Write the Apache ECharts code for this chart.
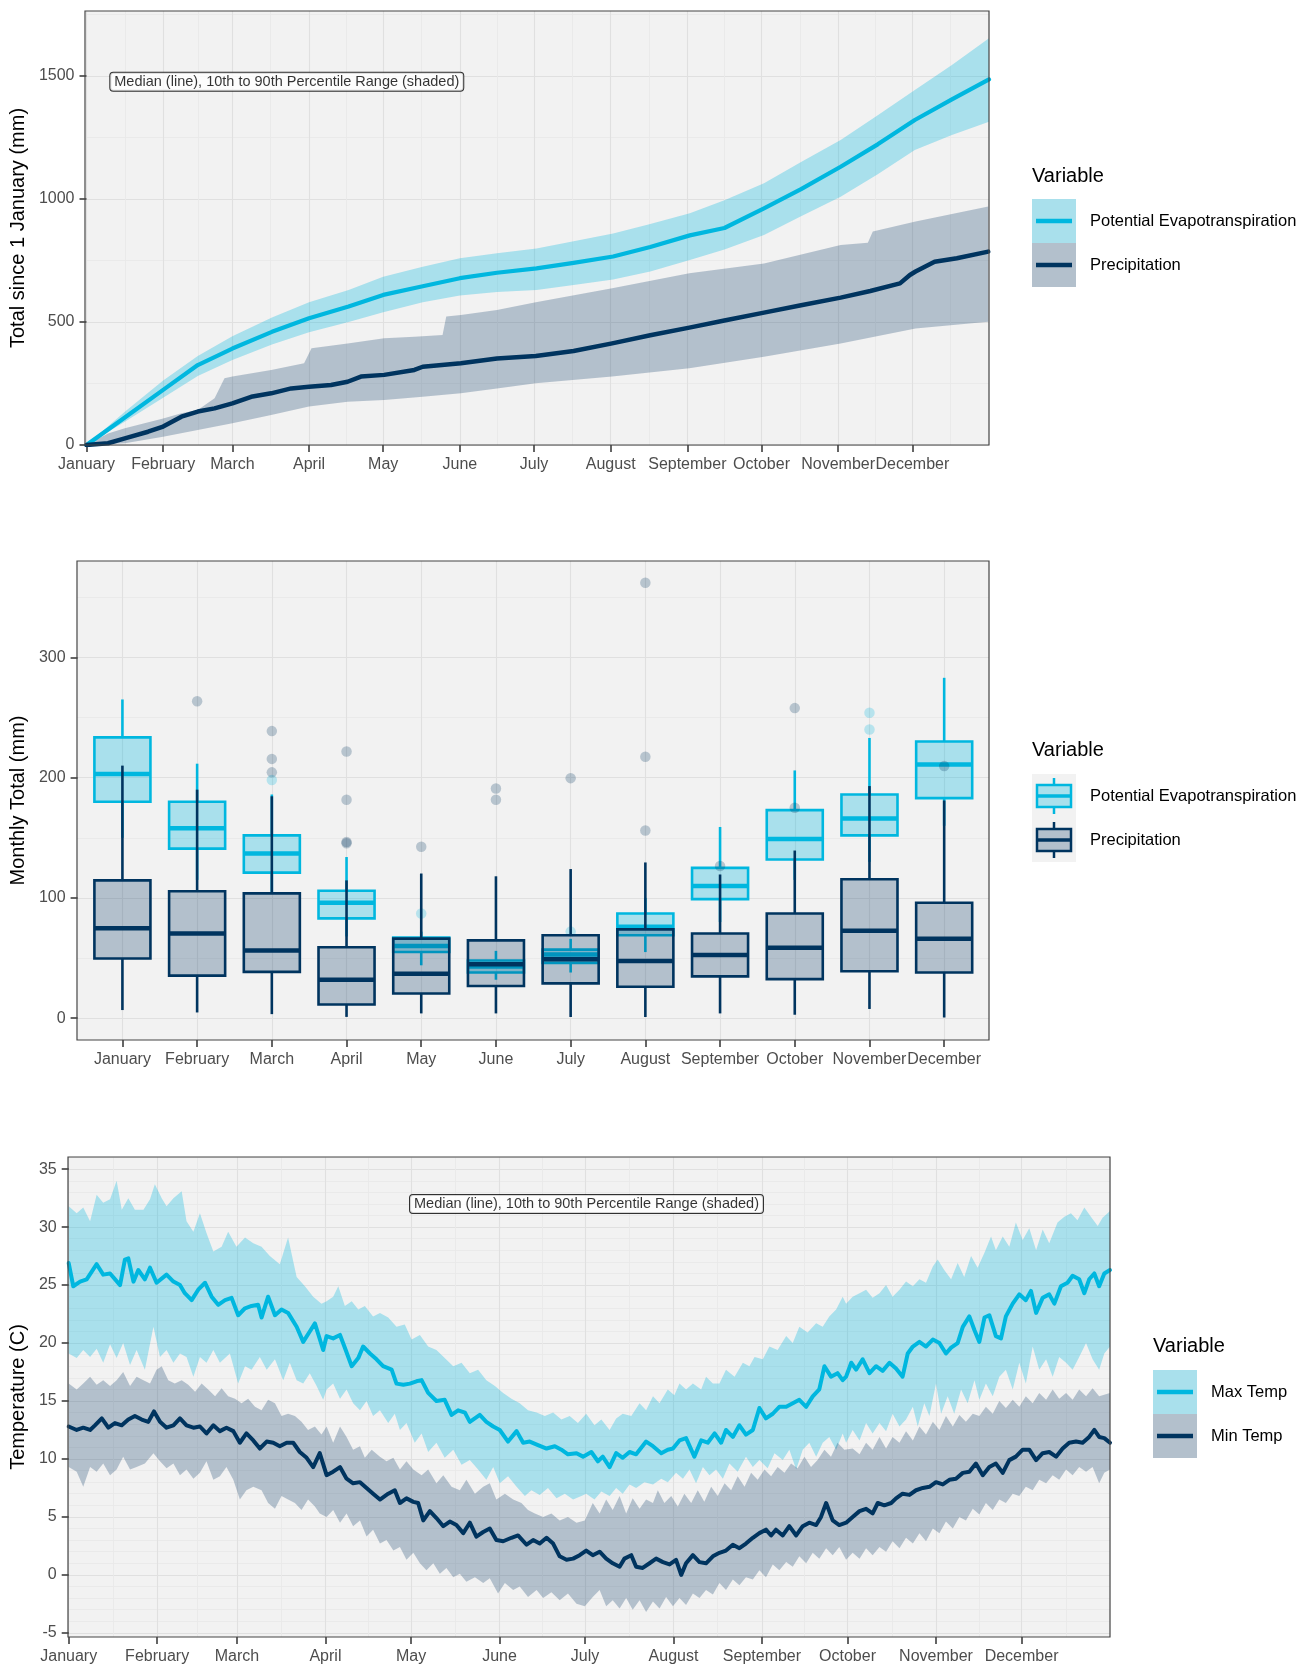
<!DOCTYPE html>
<html><head><meta charset="utf-8">
<script src="https://cdn.jsdelivr.net/npm/echarts@6/dist/echarts.min.js"></script>
<style>html,body{margin:0;padding:0;background:#fff}#main{width:1314px;height:1669px}</style>
</head><body><div id="main"></div>
<script>
// ---------- shared labels ----------
const monthNames = ['January','February','March','April','May','June','July','August','September','October','November','December'];
const monthStartDays = [0,31,59,90,120,151,181,212,243,273,304,334];
const monthMidDays = [15.5,45,74.5,105,135.5,166,196.5,227.5,258,288.5,319,349.5];
const cumTicks = [0,500,1000,1500];
const cumMinor = [250,750,1250,1750];
const boxTicks = [0,100,200,300];
const boxMinor = [50,150,250,350];
const tempTicks = [-5,0,5,10,15,20,25,30,35];
const annotationText = 'Median (line), 10th to 90th Percentile Range (shaded)';

// ---------- chart 1: cumulative totals ----------
const petDays   = [0,15.5,31,45,59,75,90,106,120,136,151,166,182,197,213,228,244,258,274,289,305,320,335,350,365];
const petMedian = [0,112,224,325,392,460,515,563,610,645,678,700,718,740,766,805,852,882,962,1040,1131,1222,1321,1405,1486];
const petP10    = [0,95,192,280,345,408,458,500,540,580,608,622,630,650,673,705,752,795,854,930,1009,1100,1199,1260,1314];
const petP90    = [0,135,262,362,442,518,580,630,684,725,759,779,799,828,860,898,942,995,1064,1150,1240,1340,1443,1545,1653];
const precipMedian = [[0,0],[8.7,7],[15.5,27],[24.9,54],[31,75],[38.4,115],[45,136],[51.8,149],[59,169],[66.6,196],[74.7,210],[82.8,230],[90,237],[98.9,244],[105.6,257],[111,278],[120.4,285],[132.6,305],[136,318],[151.4,332],[166,352],[181.7,362],[197,382],[212.6,413],[228,446],[243.8,477],[258,506],[274,538],[289,568],[305,599],[317,626],[329,657],[333,691],[335.3,705],[343,745],[352,759],[364.7,786]];
const precipP90 = [[0,0],[8.7,47],[15.5,68],[31,108],[38.4,129],[45,142],[51.8,190],[55.8,271],[59,278],[74.7,305],[88,332],[91,393],[105.6,413],[120.4,434],[132.6,440],[144,447],[145.5,522],[151.4,528],[166,549],[181.7,580],[212.6,637],[243.8,698],[274,738],[305,813],[316,822],[318,868],[335.3,908],[364.7,969]];
const precipP10 = [[0,0],[15.5,7],[31,34],[45,61],[59,88],[74.7,122],[90,156],[105.6,176],[120.4,183],[136,196],[151.4,210],[166,230],[181.7,251],[212.6,278],[243.8,312],[274,359],[305,413],[335.3,474],[364.7,501]];

// ---------- chart 2: monthly boxplots ----------
const boxMonths = [1,2,3,4,5,6,7,8,9,10,11,12];
const petLow  = [150,115,105,68,44,32,38,55,80,115,130,160];
const petQ1   = [180,141,121,83,55,38,46,69,99,132,152,183];
const petMed  = [203,158,137,96,60,43,53,76,110,149,166,211];
const petQ3   = [233.5,180,152,106,67,48,57,87,125,173,186,230];
const petHigh = [265,211.6,186,134,72,56,66,100,159,206,233,283];
const petOutliers = [[3,198],[5,87],[7,72],[11,254],[11,240]];
const precLow  = [6.8,4.8,3.4,1.1,4,4,1,1,4,2.9,7.7,0.6];
const precQ1   = [49.6,35.4,38.5,11.4,20.5,26.8,29,26.2,34.8,32.5,39,38];
const precMed  = [74.7,70.4,56.2,32,37,44.8,49,47.6,52.5,58.5,72.7,66];
const precQ3   = [114.6,105.5,103.8,59,66.2,64.7,69,73.9,70.4,87,115.5,96];
const precHigh = [210,190,184.5,114.6,120.3,118,124,129.5,119.5,139.4,193,181];
const precOutliers = [[2,263.5],[3,238.7],[3,215.6],[3,204.4],[4,221.8],[4,181.6],[4,146.5],[4,145.5],[5,142.6],[6,191],[6,181.6],[7,199.6],[8,362],[8,217.3],[8,156],[9,126.6],[10,257.8],[10,175],[12,209.6]];

// ---------- chart 3: daily temperature ----------
const maxMed = [[0,26.9],[1.6,24.9],[4.0,25.3],[6.3,25.5],[9.8,26.8],[12.1,25.9],[14.5,26.0],[18.0,25.0],[19.7,27.2],[20.9,27.3],[22.7,25.3],[24.4,26.3],[26.7,25.5],[28.5,26.5],[30.8,25.2],[34.3,25.9],[36.7,25.3],[39.0,25.0],[40.7,24.3],[43.1,23.7],[45.4,24.6],[47.8,25.2],[50.1,24.0],[52.4,23.3],[54.8,23.7],[57.1,23.9],[59.4,22.4],[61.8,23.0],[64.1,23.2],[66.4,23.3],[67.6,22.2],[69.9,24.0],[72.3,22.4],[74.6,22.9],[76.9,22.6],[79.9,21.4],[82.2,20.1],[84.5,21.0],[86.3,21.7],[89.2,19.4],
[90.4,20.6],[92.7,20.4],[95.1,20.7],[96.8,19.6],[99.2,18.0],[101.5,18.7],[103.2,19.7],[105.6,19.1],[107.9,18.6],[110.2,18.0],[113.2,17.7],[114.9,16.5],[117.3,16.4],[119.6,16.5],[121.9,16.7],[123.7,16.8],[126.0,15.7],[128.9,15.0],[131.8,15.1],[134.2,13.8],[136.5,14.2],[138.9,14.0],[140.6,13.2],[144.1,13.8],[146.4,13.2],[148.8,12.8],[151.1,12.5],[154.0,11.5],[157.0,12.4],[159.3,11.4],[161.6,11.5],[164.5,11.2],[167.5,10.9],[170.4,11.1],[172.7,10.8],[175.0,10.4],[178.0,10.5],[180.3,10.2],
[183.2,10.6],[185.5,9.8],[187.2,10.2],[189.6,9.3],[191.9,10.5],[194.2,10.1],[196.6,10.6],[198.9,10.4],[202.4,11.5],[204.8,11.1],[207.7,10.5],[210.0,10.8],[211.8,10.9],[214.1,11.6],[216.4,11.8],[219.3,10.2],[221.7,11.6],[224.0,11.4],[226.4,12.2],[228.7,11.4],[230.4,12.5],[232.8,11.9],[235.1,12.9],[237.4,12.1],[239.8,12.5],[242.1,14.4],[244.4,13.5],[246.8,13.9],[249.1,14.5],[251.5,14.5],[253.8,14.8],[256.1,15.1],[258.5,14.5],[260.8,15.4],[263.1,16.0],[264.9,18.0],[267.2,17.1],[269.5,17.4],[271.3,16.8],
[272.5,17.1],[274.3,18.3],[276.0,17.7],[278.3,18.6],[280.7,17.4],[283.0,18.0],[285.3,17.6],[287.7,18.3],[290.0,17.8],[292.3,17.1],[294.1,19.1],[295.9,19.7],[298.2,20.1],[300.5,19.7],[302.9,20.3],[305.2,20.0],[307.5,19.1],[309.3,19.6],[311.6,20.0],[313.4,21.4],[315.7,22.3],[317.5,21.1],[319.2,20.1],[321.0,22.2],[322.7,22.4],[325.0,20.6],[326.8,20.4],[328.5,22.3],[330.9,23.4],[333.2,24.2],[335.5,23.7],[337.3,24.5],[339.1,22.6],[341.4,23.9],[343.7,24.2],[345.5,23.4],[347.8,24.9],[350.1,25.2],[351.9,25.8],[354.2,25.5],[356.0,24.3],[357.7,25.5],[359.5,26.0],[361.2,24.9],[363.0,26.0],[365,26.3]];
const maxHi = [[0,31.8],[2.8,31.2],[5.1,31.7],[7.5,30.5],[9.8,32.8],[12.1,32.1],[14.5,32.4],[16.8,34.0],[18.6,31.5],[20.9,32.5],[23.2,31.5],[26.2,31.5],[28.5,32.4],[30.2,33.7],[32.6,32.5],[34.3,31.8],[36.7,32.5],[39.6,33.1],[41.3,30.5],[43.7,29.6],[46.0,31.2],[48.3,29.5],[50.7,27.9],[53.6,28.3],[55.9,29.6],[58.8,28.3],[61.8,29.1],[64.7,28.6],[67.6,28.3],[70.5,27.5],[74.0,26.8],[76.9,29.1],[79.9,25.7],[82.8,24.9],[85.7,24.0],[88.6,23.4],
[90.4,23.6],[92.7,24.0],[94.5,24.9],[96.8,23.2],[99.2,23.6],[101.5,22.9],[103.8,23.2],[106.7,22.3],[109.1,22.6],[112.0,22.2],[114.9,21.4],[117.8,21.6],[120.2,20.3],[123.1,20.7],[126.0,19.7],[128.9,19.4],[131.8,18.7],[134.8,18.0],[137.7,18.3],[140.6,17.4],[143.5,17.7],[146.4,16.8],[149.4,16.3],[152.3,15.7],[155.2,15.2],[158.1,14.8],[161.0,14.2],[164.0,14.0],[166.9,13.7],[169.8,14.0],[172.7,13.4],[175.6,13.7],[178.5,13.1],
[181.4,13.9],[184.3,12.9],[186.7,13.4],[189.6,12.5],[191.9,13.5],[194.2,13.9],[197.2,13.7],[200.1,14.8],[202.4,14.2],[204.8,15.4],[207.1,14.8],[210.0,16.0],[212.3,15.5],[214.1,16.5],[216.4,16.0],[218.8,16.5],[221.7,16.0],[223.4,17.1],[225.8,16.5],[228.1,16.5],[230.4,17.7],[233.4,17.1],[236.3,18.3],[238.6,18.0],[240.4,18.8],[243.3,18.6],[245.6,19.7],[248.5,19.4],[251.5,20.6],[253.8,20.0],[256.1,21.4],[259.0,20.9],[262.0,21.7],[264.3,21.4],[266.6,22.3],[269.0,22.9],[271.3,24.0],
[272.5,23.4],[274.8,24.0],[277.2,24.3],[279.5,24.6],[281.8,23.9],[284.2,24.3],[286.5,25.0],[288.8,24.0],[291.2,24.6],[293.5,25.3],[295.9,24.9],[298.2,25.5],[300.5,25.2],[302.9,26.6],[304.6,27.2],[306.9,26.3],[309.3,25.5],[311.6,26.9],[313.9,25.7],[316.3,27.5],[318.6,26.5],[321.0,27.8],[323.3,29.2],[325.0,28.0],[327.4,29.2],[329.7,28.3],[332.0,30.4],[334.4,28.9],[336.7,29.9],[339.1,28.0],[341.4,29.8],[343.7,28.6],[346.6,30.4],[349.0,30.9],[351.3,31.2],[353.6,30.6],[356.0,31.7],[358.3,30.9],[360.7,30.1],[362.4,30.8],[365,31.4]];
const maxLo = [[0,19.1],[2.8,18.7],[5.1,19.4],[7.5,18.8],[9.8,19.5],[12.1,18.3],[14.5,19.9],[16.8,18.7],[19.1,20.0],[21.5,18.1],[23.8,19.4],[26.7,17.7],[29.7,21.4],[32.0,18.8],[34.3,19.4],[36.7,18.3],[39.0,19.1],[41.3,18.8],[43.7,17.1],[46.0,18.8],[48.3,18.3],[50.7,19.4],[53.0,18.3],[56.5,19.1],[59.4,16.5],[61.8,18.0],[64.1,17.7],[67.0,18.8],[69.4,17.7],[72.3,18.6],[75.2,16.8],[77.5,18.3],[79.9,16.8],[82.2,16.5],[84.5,17.4],[86.9,16.3],[89.2,15.1],
[90.4,16.0],[92.7,16.5],[95.1,15.2],[97.4,16.0],[99.7,14.8],[102.1,14.2],[104.4,15.0],[106.7,13.7],[109.1,14.2],[112.0,13.1],[114.3,13.9],[116.1,12.5],[118.4,13.1],[121.3,11.4],[123.7,12.2],[126.0,10.6],[128.9,11.4],[131.8,10.1],[134.8,10.8],[137.7,9.5],[140.6,9.9],[143.5,9.1],[146.4,8.2],[148.8,9.3],[151.1,7.9],[154.0,8.5],[157.0,7.6],[159.9,6.8],[162.2,7.3],[165.1,6.9],[168.0,7.5],[171.0,6.6],[173.9,7.0],[176.8,6.5],[179.7,6.8],
[181.4,7.0],[184.3,6.5],[186.7,7.2],[189.6,6.8],[191.9,7.5],[194.2,7.0],[196.6,7.8],[198.9,7.5],[201.8,8.0],[204.8,7.8],[207.7,8.3],[210.0,8.0],[212.9,8.8],[215.3,8.3],[217.6,9.1],[219.9,7.9],[222.3,9.3],[224.6,8.6],[226.9,9.1],[229.3,8.3],[231.6,9.6],[234.5,8.9],[237.4,10.2],[239.8,9.3],[242.1,9.9],[245.0,9.2],[247.4,10.5],[250.3,9.9],[252.6,10.8],[255.0,9.1],[257.3,10.8],[259.6,11.4],[262.0,10.2],[264.3,11.4],[266.6,11.9],[269.0,10.8],[271.3,12.2],
[272.5,11.4],[274.8,12.5],[277.2,11.6],[279.5,13.1],[281.8,12.2],[284.2,13.1],[286.5,12.4],[288.8,13.9],[291.2,12.8],[293.5,13.4],[295.9,14.5],[297.6,12.8],[299.9,14.8],[301.7,13.7],[304.0,16.5],[305.8,13.9],[308.1,15.4],[310.4,13.9],[312.8,16.0],[315.1,14.8],[317.5,16.8],[319.2,15.1],[321.5,16.5],[323.9,15.4],[326.2,17.1],[328.5,17.7],[330.9,16.0],[333.2,18.3],[335.5,16.5],[337.9,19.7],[340.2,17.7],[342.6,18.6],[344.9,17.1],[347.2,18.8],[349.6,18.3],[351.9,17.7],[354.2,18.8],[356.6,20.0],[358.9,18.6],[361.2,17.7],[363.0,19.1],[365,19.7]];
const minMed = [[0,12.8],[2.8,12.5],[5.1,12.7],[7.5,12.5],[9.2,12.9],[11.6,13.5],[13.9,12.7],[16.2,13.1],[18.6,12.9],[20.9,13.4],[23.2,13.7],[25.6,13.4],[27.9,13.2],[29.9,14.1],[32.0,13.2],[34.3,12.7],[36.7,12.9],[39.0,13.5],[41.3,12.9],[43.7,12.7],[46.0,12.8],[48.3,12.2],[50.7,12.9],[53.0,12.4],[55.3,12.7],[57.7,12.4],[60.0,11.4],[62.3,12.2],[64.7,11.6],[67.0,10.9],[69.4,11.5],[71.7,11.4],[74.0,11.1],[76.4,11.4],[78.7,11.4],[81.0,10.6],[83.4,10.1],[85.7,9.3],[88.0,10.5],
[90.4,8.6],[92.7,8.9],[95.1,9.3],[97.4,8.3],[99.7,7.9],[102.1,8.0],[104.4,7.5],[106.7,7.0],[109.1,6.5],[112.0,7.0],[114.3,7.3],[116.1,6.2],[118.4,6.6],[120.8,6.3],[122.5,6.2],[124.3,4.7],[126.6,5.5],[128.9,4.9],[131.3,4.2],[133.6,4.6],[135.9,4.3],[138.3,3.6],[140.6,4.5],[142.9,3.3],[145.3,3.7],[147.6,4.0],[149.9,3.0],[152.3,2.9],[155.2,3.2],[157.5,3.4],[160.5,2.6],[162.8,3.0],[165.1,2.7],[167.5,3.2],[169.8,2.7],[172.1,1.6],[174.5,1.3],[176.8,1.4],[179.1,1.7],
[181.4,2.1],[183.7,1.7],[186.1,2.0],[188.4,1.4],[190.7,1.0],[193.1,0.7],[194.8,1.4],[197.2,1.7],[198.9,0.7],[201.2,0.6],[203.6,1.0],[205.9,1.4],[208.3,1.1],[210.6,0.9],[212.9,1.3],[214.7,0.0],[216.4,1.0],[218.8,1.7],[221.1,1.1],[223.4,1.0],[225.8,1.6],[228.1,1.9],[230.4,2.1],[232.8,2.6],[235.1,2.3],[237.4,2.7],[239.8,3.2],[242.1,3.6],[244.4,3.9],[246.2,3.4],[247.9,3.9],[250.3,3.4],[252.6,4.2],[255.0,3.4],[257.3,4.2],[259.6,4.5],[262.0,4.3],[263.7,5.0],[265.5,6.2],[267.8,4.7],[270.1,4.3],
[272.5,4.5],[274.8,5.0],[277.2,5.5],[279.5,5.7],[281.8,5.3],[283.6,6.2],[285.9,6.0],[288.3,6.2],[290.0,6.6],[292.3,7.0],[294.7,6.9],[297.0,7.3],[299.4,7.5],[301.7,7.6],[304.0,8.0],[306.4,7.8],[308.7,8.2],[311.0,8.3],[313.4,8.8],[315.7,8.9],[318.0,9.6],[320.4,8.6],[322.7,9.3],[325.0,9.6],[327.4,8.8],[329.7,9.9],[332.0,10.2],[334.4,10.8],[336.7,10.8],[339.1,9.9],[341.4,10.5],[343.7,10.6],[346.1,10.2],[348.4,10.9],[350.7,11.4],[353.1,11.5],[355.4,11.4],[357.7,11.9],[359.5,12.5],[361.2,11.9],[363.0,11.8],[365,11.4]];
const minHi = [[0,16.5],[2.8,16.0],[5.1,16.5],[7.5,17.1],[9.8,16.4],[12.1,16.8],[14.5,16.3],[16.8,16.8],[19.1,17.5],[21.5,16.3],[23.8,17.1],[26.2,16.8],[28.5,16.5],[30.8,17.7],[32.6,18.0],[34.9,16.8],[37.2,16.5],[39.6,16.8],[41.9,16.4],[44.3,15.8],[46.6,16.5],[48.9,16.0],[51.3,15.4],[53.6,16.1],[55.9,15.4],[58.3,15.2],[60.6,14.8],[62.9,15.2],[65.3,14.5],[67.6,14.2],[69.9,15.1],[72.3,14.8],[74.6,13.7],[76.9,13.9],[79.3,13.7],[81.6,13.2],[83.9,12.5],[86.3,12.8],[88.6,12.1],
[90.4,12.8],[92.7,11.4],[95.1,12.8],[97.4,11.9],[99.7,10.8],[102.1,11.1],[103.8,10.1],[106.2,10.8],[109.1,10.2],[111.4,9.8],[113.8,10.1],[116.1,9.1],[118.4,9.8],[120.8,9.1],[123.7,8.6],[126.0,9.1],[128.9,7.9],[131.3,8.6],[134.2,7.6],[137.1,7.3],[139.4,8.2],[142.4,7.0],[145.3,7.6],[147.6,7.9],[149.9,6.5],[152.9,7.0],[155.8,6.5],[158.7,6.2],[161.0,5.6],[163.4,5.3],[166.3,5.0],[169.2,5.3],[172.1,4.7],[175.0,5.0],[178.0,4.5],[180.9,4.7],
[183.7,6.2],[186.1,5.3],[188.4,6.5],[190.7,5.6],[193.1,6.8],[195.4,5.3],[197.7,6.6],[200.1,5.7],[202.4,6.5],[204.8,6.2],[206.5,7.3],[208.8,6.2],[211.2,6.8],[213.5,5.9],[215.8,7.0],[218.2,6.2],[220.5,7.3],[222.8,6.3],[225.2,7.6],[227.5,6.8],[229.9,7.9],[232.2,7.3],[234.5,8.5],[236.9,7.6],[239.2,8.8],[241.5,8.2],[243.9,9.1],[246.2,8.5],[248.5,9.3],[250.9,8.8],[253.2,9.6],[255.5,9.2],[257.9,10.2],[260.2,9.3],[262.5,9.9],[264.9,10.8],[267.2,10.2],[269.5,11.4],[271.9,10.8],
[274.8,10.9],[277.2,10.4],[279.5,11.4],[281.8,10.8],[284.2,11.9],[286.5,10.9],[288.8,11.9],[291.2,11.4],[293.5,12.4],[295.9,11.6],[298.2,12.8],[300.5,12.1],[302.9,13.2],[305.2,12.5],[307.5,13.7],[309.9,12.8],[312.2,13.8],[314.5,13.2],[316.9,13.9],[319.2,13.7],[321.5,14.5],[323.9,13.9],[326.2,15.0],[328.5,14.4],[330.9,15.1],[333.2,14.5],[335.5,15.4],[337.9,14.8],[340.2,15.7],[342.6,15.1],[344.9,16.0],[347.2,15.2],[349.6,15.7],[351.9,15.1],[354.2,16.0],[356.6,15.4],[358.9,16.1],[361.2,15.4],[365,15.7]];
const minLo = [[0,9.3],[2.8,8.9],[5.1,7.6],[7.5,9.3],[9.8,8.9],[12.1,9.6],[14.5,8.6],[16.8,9.1],[19.1,10.2],[21.5,9.1],[23.8,9.3],[26.7,9.6],[29.7,10.5],[32.0,9.8],[34.3,9.2],[36.7,9.6],[39.0,8.6],[41.3,9.1],[43.7,8.3],[46.0,8.8],[48.3,9.8],[50.7,8.2],[53.0,8.5],[55.3,9.3],[57.7,8.2],[60.0,6.5],[62.3,7.3],[64.7,7.6],[67.6,7.3],[69.9,6.2],[72.3,5.7],[74.6,6.8],[76.9,6.5],[79.3,6.2],[81.6,5.6],[83.9,6.5],[86.3,5.9],[88.0,5.3],
[90.4,5.0],[92.7,5.6],[95.1,4.5],[97.4,5.3],[99.7,4.2],[102.1,4.7],[104.4,3.3],[106.7,3.9],[109.1,2.7],[111.4,3.0],[113.8,2.1],[116.1,2.4],[118.4,1.3],[120.8,1.9],[123.1,1.0],[125.4,0.4],[127.8,1.0],[130.1,0.1],[132.4,0.6],[134.8,-0.2],[137.1,0.1],[139.4,-0.6],[142.4,-0.2],[145.3,-0.7],[147.6,-0.3],[150.5,-1.6],[152.9,-0.7],[155.8,-1.3],[158.1,-1.0],[161.0,-1.9],[164.0,-1.3],[166.3,-2.0],[169.2,-1.5],[172.1,-2.2],[175.0,-1.6],[178.0,-2.5],[180.9,-2.7],
[183.7,-1.9],[186.1,-1.3],[188.4,-2.7],[190.7,-2.2],[193.1,-2.9],[195.4,-2.0],[197.7,-3.0],[200.1,-2.2],[202.4,-3.2],[204.8,-2.3],[207.1,-2.9],[209.4,-1.9],[211.8,-2.7],[214.1,-2.0],[216.4,-2.6],[218.8,-1.6],[221.1,-2.0],[223.4,-1.3],[225.8,-1.7],[228.1,-0.7],[230.4,-1.3],[232.8,-0.4],[235.1,-0.9],[237.4,-0.2],[239.8,-0.4],[242.1,0.4],[244.4,-0.2],[246.8,0.9],[249.1,0.4],[251.5,1.1],[253.8,0.7],[256.1,1.6],[258.5,1.0],[260.8,1.9],[263.1,1.4],[265.5,2.3],[267.8,1.7],[270.1,2.4],
[272.5,1.3],[274.8,1.9],[277.2,1.4],[279.5,2.3],[281.8,1.7],[284.2,2.4],[286.5,2.0],[288.8,2.9],[291.2,2.3],[293.5,3.2],[295.9,2.7],[298.2,3.6],[300.5,2.9],[302.9,4.0],[305.2,3.6],[307.5,4.6],[309.9,4.0],[312.2,5.0],[314.5,4.7],[316.9,5.7],[319.2,5.2],[321.5,6.2],[323.9,5.6],[326.2,6.5],[328.5,6.2],[330.9,7.0],[333.2,6.8],[335.5,7.6],[337.9,7.3],[340.2,8.2],[342.6,7.9],[344.9,8.6],[347.2,8.2],[349.6,9.1],[351.9,8.6],[354.2,9.3],[356.6,8.9],[358.9,9.3],[361.2,7.9],[363.0,8.8],[365,9.1]];

// ---------- styling ----------
const FONT = '"Liberation Sans", Arial, Helvetica, sans-serif';
const CYAN = '#00B7DF';
const NAVY = '#00345F';
const CYAN_FILL = 'rgba(0,183,223,0.30)';
const NAVY_FILL = 'rgba(0,52,95,0.26)';
const PANEL = '#F2F2F2';
const GRID_MAJOR = '#E0E0E0';
const GRID_MINOR = '#E9E9E9';

const tempMinor = [];
for (let v = -5; v <= 36; v++) { if (v % 5 !== 0) tempMinor.push(v); }

const zip = (days, vals) => days.map((d, i) => [d, vals[i]]);
const monthFmt = v => monthNames[monthStartDays.indexOf(v)] || '';

function mainAxis(gridIndex, min, max, ticks, formatter, extra) {
  return Object.assign({
    type: 'value', gridIndex, min, max,
    axisLine: { show: false, onZero: false },
    axisTick: { show: true, customValues: ticks, length: 7, lineStyle: { color: '#333', width: 1.5 } },
    axisLabel: { show: true, customValues: ticks, formatter, margin: 12, fontSize: 16, color: '#4D4D4D', fontFamily: FONT },
    splitLine: { show: true, lineStyle: { color: GRID_MAJOR, width: 1.1 } },
    minorTick: { show: false }, minorSplitLine: { show: false }
  }, extra || {});
}
function minorAxis(gridIndex, min, max, ticks) {
  return {
    type: 'value', gridIndex, min, max,
    axisLine: { show: false, onZero: false },
    axisTick: { show: false, customValues: ticks },
    axisLabel: { show: false, customValues: ticks },
    splitLine: { show: true, lineStyle: { color: GRID_MINOR, width: 0.9 } }
  };
}
function yName(name, gap) {
  return { name, nameLocation: 'middle', nameGap: gap,
    nameTextStyle: { fontSize: 20, color: '#000', fontFamily: FONT } };
}

function bandSeries(xi, yi, hi, lo, color) {
  return {
    type: 'custom', xAxisIndex: xi, yAxisIndex: yi, silent: true, z: 1,
    data: [hi[0]],
    renderItem: (params, api) => {
      const pts = hi.map(p => api.coord(p)).concat(lo.slice().reverse().map(p => api.coord(p)));
      return { type: 'polygon', shape: { points: pts }, style: { fill: color } };
    }
  };
}
function lineSeries(xi, yi, data, color, width) {
  return { type: 'line', xAxisIndex: xi, yAxisIndex: yi, data, showSymbol: false, symbol: 'none',
    smooth: false, silent: true, z: 3, lineStyle: { color, width, join: 'round', cap: 'round' }, itemStyle: { color } };
}
function boxSeries(data, stroke, fill, z) {
  return {
    type: 'custom', xAxisIndex: 2, yAxisIndex: 2, silent: true, z,
    data, encode: { x: 0, y: [1, 2, 3, 4, 5] },
    renderItem: (params, api) => {
      const x = api.value(0);
      const w = api.size([0.75, 0])[0];
      const lo = api.coord([x, api.value(1)]);
      const q1 = api.coord([x, api.value(2)]);
      const md = api.coord([x, api.value(3)]);
      const q3 = api.coord([x, api.value(4)]);
      const hi = api.coord([x, api.value(5)]);
      const cx = md[0];
      return { type: 'group', children: [
        { type: 'line', shape: { x1: cx, y1: lo[1], x2: cx, y2: q1[1] }, style: { stroke, lineWidth: 2.6 } },
        { type: 'line', shape: { x1: cx, y1: q3[1], x2: cx, y2: hi[1] }, style: { stroke, lineWidth: 2.6 } },
        { type: 'rect', shape: { x: cx - w / 2, y: q3[1], width: w, height: q1[1] - q3[1] }, style: { fill, stroke, lineWidth: 2.6 } },
        { type: 'line', shape: { x1: cx - w / 2, y1: md[1], x2: cx + w / 2, y2: md[1] }, style: { stroke, lineWidth: 4.5 } }
      ] };
    }
  };
}
function outlierSeries(data, color, z) {
  return { type: 'scatter', xAxisIndex: 2, yAxisIndex: 2, data, symbol: 'circle', symbolSize: 10.5,
    silent: true, z, itemStyle: { color } };
}
function annotation(xi, yi, pos) {
  return { type: 'scatter', xAxisIndex: xi, yAxisIndex: yi, data: [pos], symbolSize: 1, silent: true, z: 10,
    itemStyle: { color: 'rgba(0,0,0,0)' },
    label: { show: true, position: 'inside', formatter: annotationText, fontSize: 14.5, fontFamily: FONT,
      color: '#000', backgroundColor: '#fff', borderColor: '#000', borderWidth: 1, borderRadius: 3, padding: [2, 4, 1, 4] } };
}

// ---------- legends (graphic) ----------
function txt(x, y, text, size) {
  return { type: 'text', x, y, silent: true, z: 100,
    style: { text, fill: '#000', font: size + 'px ' + FONT, verticalAlign: 'middle', align: 'left' } };
}
function bandKey(x, y, fill, stroke) {
  return [
    { type: 'rect', silent: true, z: 100, shape: { x, y, width: 44, height: 44 }, style: { fill: PANEL } },
    { type: 'rect', silent: true, z: 100, shape: { x, y, width: 44, height: 44 }, style: { fill } },
    { type: 'line', silent: true, z: 101, shape: { x1: x + 4, y1: y + 22, x2: x + 40, y2: y + 22 }, style: { stroke, lineWidth: 4.5 } }
  ];
}
function boxKey(x, y, fill, stroke) {
  return [
    { type: 'rect', silent: true, z: 100, shape: { x, y, width: 44, height: 44 }, style: { fill: PANEL } },
    { type: 'line', silent: true, z: 101, shape: { x1: x + 22, y1: y + 4, x2: x + 22, y2: y + 11 }, style: { stroke, lineWidth: 2.5 } },
    { type: 'line', silent: true, z: 101, shape: { x1: x + 22, y1: y + 33, x2: x + 22, y2: y + 40 }, style: { stroke, lineWidth: 2.5 } },
    { type: 'rect', silent: true, z: 101, shape: { x: x + 5, y: y + 11, width: 34, height: 22 }, style: { fill, stroke, lineWidth: 2.5 } },
    { type: 'line', silent: true, z: 102, shape: { x1: x + 5, y1: y + 22, x2: x + 39, y2: y + 22 }, style: { stroke, lineWidth: 3.5 } }
  ];
}
function border(x, y, w, h) {
  return { type: 'rect', silent: true, z: 90, shape: { x, y, width: w, height: h },
    style: { fill: 'none', stroke: '#444', lineWidth: 1.2 } };
}

const G1 = { left: 85, top: 11, width: 904, height: 434 };
const G2 = { left: 77, top: 561, width: 912, height: 479 };
const G3 = { left: 68, top: 1157, width: 1042, height: 480 };

const graphics = [].concat(
  [border(G1.left, G1.top, G1.width, G1.height), border(G2.left, G2.top, G2.width, G2.height), border(G3.left, G3.top, G3.width, G3.height)],
  [txt(1032, 176, 'Variable', 20)],
  bandKey(1032, 199, CYAN_FILL, CYAN), bandKey(1032, 243, NAVY_FILL, NAVY),
  [txt(1090, 221, 'Potential Evapotranspiration', 16.5), txt(1090, 265, 'Precipitation', 16.5)],
  [txt(1032, 750, 'Variable', 20)],
  boxKey(1032, 774, CYAN_FILL, CYAN), boxKey(1032, 818, NAVY_FILL, NAVY),
  [txt(1090, 796, 'Potential Evapotranspiration', 16.5), txt(1090, 840, 'Precipitation', 16.5)],
  [txt(1153, 1346, 'Variable', 20)],
  bandKey(1153, 1370, CYAN_FILL, CYAN), bandKey(1153, 1414, NAVY_FILL, NAVY),
  [txt(1211, 1392, 'Max Temp', 16.5), txt(1211, 1436, 'Min Temp', 16.5)]
);

const gridStyle = { show: true, backgroundColor: PANEL, borderWidth: 0, containLabel: false };

const option = {
  animation: false,
  backgroundColor: '#fff',
  textStyle: { fontFamily: FONT },
  grid: [Object.assign({}, G1, gridStyle), Object.assign({}, G2, gridStyle), Object.assign({}, G3, gridStyle)],
  xAxis: [
    mainAxis(0, 0, 365, monthStartDays, monthFmt),
    minorAxis(0, 0, 365, monthMidDays),
    mainAxis(1, 0.4, 12.6, boxMonths, v => monthNames[Math.round(v) - 1]),
    mainAxis(2, 0, 365, monthStartDays, monthFmt),
    minorAxis(2, 0, 365, monthMidDays)
  ],
  yAxis: [
    mainAxis(0, 0, 1764, cumTicks, v => String(v), yName('Total since 1 January (mm)', 56)),
    minorAxis(0, 0, 1764, cumMinor),
    mainAxis(1, -18.1, 380.1, boxTicks, v => String(v), yName('Monthly Total (mm)', 48)),
    minorAxis(1, -18.1, 380.1, boxMinor),
    mainAxis(2, -5.36, 36.05, tempTicks, v => String(v), yName('Temperature (C)', 40)),
    minorAxis(2, -5.36, 36.05, tempMinor)
  ],
  graphic: { elements: graphics },
  series: [
    // chart 1
    bandSeries(0, 0, zip(petDays, petP90), zip(petDays, petP10), CYAN_FILL),
    bandSeries(0, 0, precipP90, precipP10, NAVY_FILL),
    lineSeries(0, 0, zip(petDays, petMedian), CYAN, 4.2),
    lineSeries(0, 0, precipMedian, NAVY, 4.5),
    annotation(0, 0, [81, 1476]),
    // chart 2
    boxSeries(boxMonths.map((m, i) => [m, petLow[i], petQ1[i], petMed[i], petQ3[i], petHigh[i]]), CYAN, CYAN_FILL, 2),
    outlierSeries(petOutliers, 'rgba(0,183,223,0.30)', 3),
    boxSeries(boxMonths.map((m, i) => [m, precLow[i], precQ1[i], precMed[i], precQ3[i], precHigh[i]]), NAVY, NAVY_FILL, 4),
    outlierSeries(precOutliers, 'rgba(0,52,95,0.30)', 5),
    // chart 3
    bandSeries(3, 4, maxHi, maxLo, CYAN_FILL),
    bandSeries(3, 4, minHi, minLo, NAVY_FILL),
    lineSeries(3, 4, maxMed, CYAN, 4),
    lineSeries(3, 4, minMed, NAVY, 4),
    annotation(3, 4, [181.5, 32.0])
  ]
};

const chart = echarts.init(document.getElementById('main'), null, { renderer: 'canvas' });
chart.setOption(option);
</script>
</body></html>
